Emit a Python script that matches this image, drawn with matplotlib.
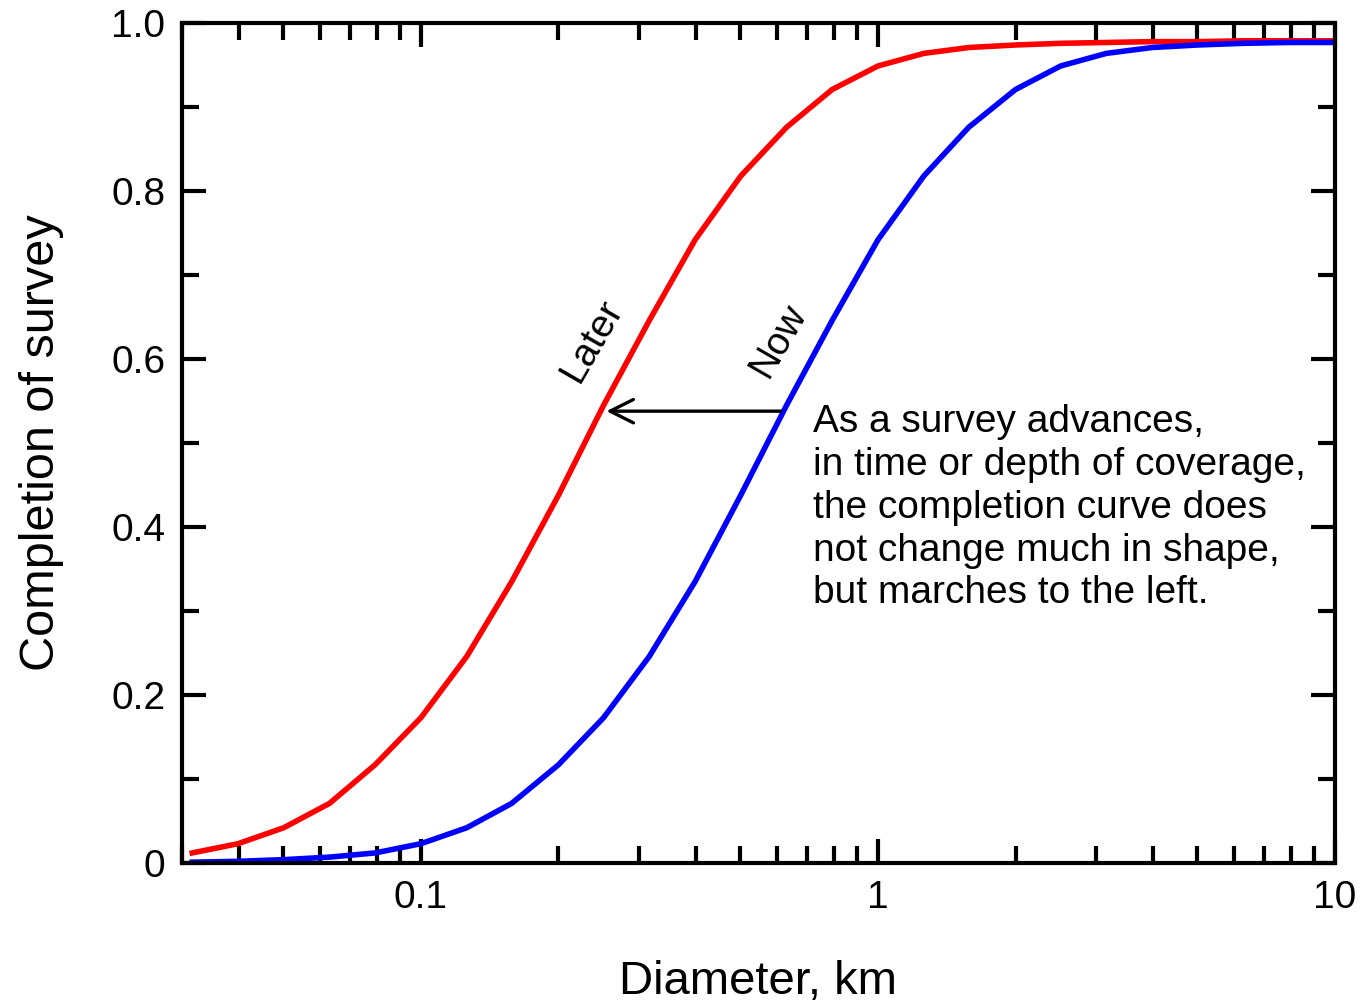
import numpy as np
import matplotlib.pyplot as plt
from matplotlib.ticker import FixedLocator, LogLocator, NullFormatter, MultipleLocator

plt.rcParams['font.family'] = ['Liberation Sans', 'DejaVu Sans']

# diameters (km), sampled every 0.1 decade
diam = [0.0316, 0.0398, 0.0501, 0.0631, 0.0794, 0.1, 0.126, 0.158, 0.2, 0.251,
        0.316, 0.398, 0.501, 0.631, 0.794, 1.0, 1.26, 1.58, 2.0, 2.51,
        3.16, 3.98, 5.01, 6.31, 7.94, 10.0]

# completion now
now = [0.001, 0.002, 0.004, 0.007, 0.012, 0.023, 0.042, 0.071, 0.117, 0.173,
       0.246, 0.335, 0.438, 0.545, 0.646, 0.742, 0.818, 0.876, 0.921, 0.949,
       0.964, 0.971, 0.974, 0.976, 0.977, 0.977]

# completion later
later = [0.012, 0.023, 0.042, 0.071, 0.117, 0.173, 0.246, 0.335, 0.438, 0.545,
         0.646, 0.742, 0.818, 0.876, 0.921, 0.949, 0.964, 0.971, 0.974, 0.976,
         0.977, 0.978, 0.978, 0.979, 0.979, 0.979]

note = ("As a survey advances,\n"
        "in time or depth of coverage,\n"
        "the completion curve does\n"
        "not change much in shape,\n"
        "but marches to the left.")

fig = plt.figure(figsize=(13.64, 10.07), dpi=100)
ax = fig.add_axes([0.1334, 0.143, 0.8453, 0.834])

ax.plot(diam, later, color='#ff0000', lw=4, solid_joinstyle='miter')
ax.plot(diam, now, color='#0000ff', lw=4, solid_joinstyle='miter')

ax.set_xscale('log')
ax.set_xlim(0.03, 10)
ax.set_ylim(0, 1)

ax.xaxis.set_major_locator(FixedLocator([0.1, 1, 10]))
ax.set_xticklabels(['0.1', '1', '10'])
ax.xaxis.set_minor_locator(LogLocator(base=10, subs=np.arange(2, 10)))
ax.xaxis.set_minor_formatter(NullFormatter())
ax.yaxis.set_major_locator(FixedLocator([0, 0.2, 0.4, 0.6, 0.8, 1.0]))
ax.set_yticklabels(['0', '0.2', '0.4', '0.6', '0.8', '1.0'])
ax.yaxis.set_minor_locator(MultipleLocator(0.1))

for s in ax.spines.values():
    s.set_linewidth(3)
ax.tick_params(which='both', direction='in', top=True, right=True, width=3,
               labelsize=28, pad=12)
ax.tick_params(which='major', length=17)
ax.tick_params(which='minor', length=12)

ax.set_xlabel('Diameter, km', fontsize=34, labelpad=32)
ax.set_ylabel('Completion of survey', fontsize=35, labelpad=34)

# shift arrow between the two curves
ax.annotate('', xy=(0.251, 0.538), xytext=(0.621, 0.538),
            arrowprops=dict(arrowstyle='->', lw=2.4, color='black',
                            mutation_scale=42))

ax.text(0.2375, 0.566, 'Later', fontsize=28, rotation=60, ha='center', va='bottom')
ax.text(0.606, 0.571, 'Now', fontsize=28, rotation=60, ha='center', va='bottom')

ax.text(0.72, 0.546, note, fontsize=28, ha='left', va='top', linespacing=1.24)

fig.savefig('out.png', dpi=100)
